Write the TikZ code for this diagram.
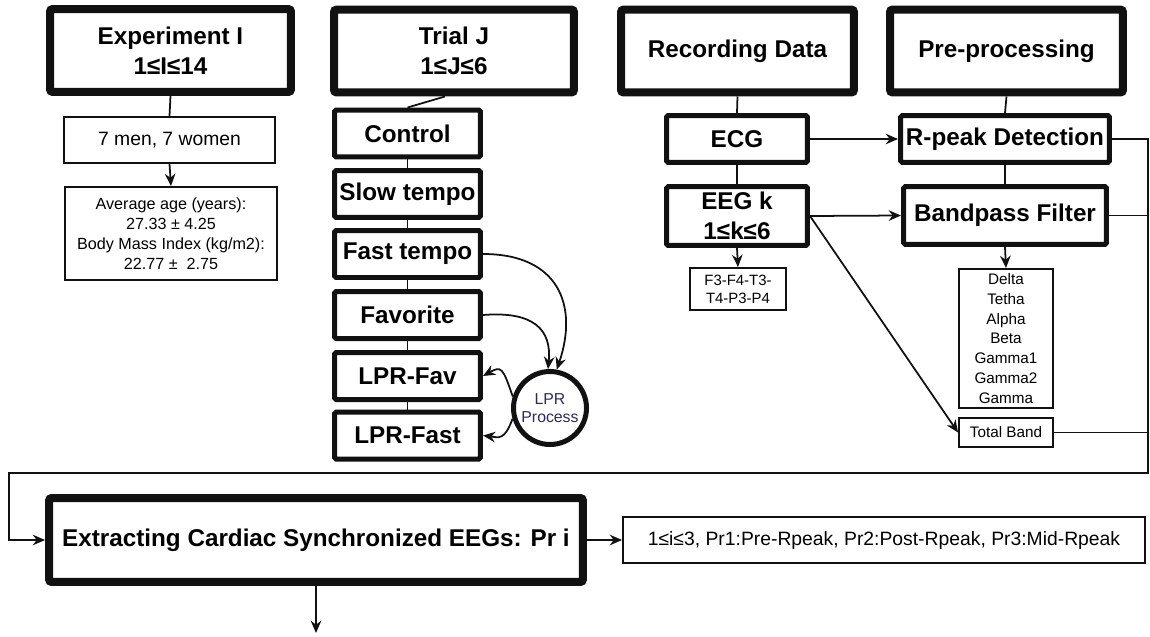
\documentclass[tikz,border=0pt]{standalone}
\usepackage{fontspec}
\setmainfont{Liberation Sans}
\usepackage{tikz}
\usetikzlibrary{arrows.meta,calc}
\usepackage{xcolor}
\definecolor{ink}{HTML}{111111}
\definecolor{lprtext}{HTML}{2B2B5E}

\begin{document}
\begin{tikzpicture}[x=0.02cm,y=-0.02cm,
    >={Stealth[length=7pt,width=6pt]},
    link/.style={draw=ink,line width=1pt},
    headbox/.style={draw=ink,line width=0.16cm,rounded corners=1.5pt,align=center,inner sep=0pt,
      font=\fontsize{13.8}{17}\selectfont\bfseries},
    stepbox/.style={draw=ink,line width=0.1cm,rounded corners=1pt,align=center,inner sep=0pt,
      minimum width=2.92cm,minimum height=0.94cm,font=\fontsize{13.8}{17}\selectfont\bfseries},
    infobox/.style={draw=ink,line width=1.1pt,align=center,inner sep=0pt,
      font=\fontsize{11}{13}\selectfont},
    notebox/.style={draw=ink,line width=1.1pt,align=center,inner sep=0pt,
      font=\fontsize{8.7}{11.3}\selectfont}]
    \useasboundingbox (0,0) rectangle (1150,636);

    % Headers
    \node[headbox,minimum width=4.82cm,minimum height=1.66cm] (exp) at (170.5,50.5) {Experiment I\\1≤I≤14};
    \node[headbox,minimum width=4.80cm,minimum height=1.66cm] (trial) at (454,51) {Trial J\\1≤J≤6};
    \node[headbox,minimum width=4.66cm,minimum height=1.66cm] (rec) at (737.5,51) {Recording Data};
    \node[headbox,minimum width=4.66cm,minimum height=1.66cm] (pre) at (1006.5,51) {Pre-processing};

    % Subjects
    \node[infobox,minimum width=4.22cm,minimum height=0.92cm] (men) at (169.5,140) {7 men, 7 women};
    \node[notebox,font=\fontsize{9.2}{11.3}\selectfont,minimum width=4.24cm,minimum height=1.86cm] (stats) at (171,233.5)
      {Average age (years):\\27.33 ± 4.25\\Body Mass Index (kg/m2):\\22.77 ±\ \ 2.75};
    \draw[link] (exp.south) -- (men.north);
    \draw[link,->] (men.south) -- (stats.north);

    % Trials
    \node[stepbox] (control) at (407.5,133.5) {Control};
    \node[stepbox] (slow) at (407.5,194) {Slow tempo};
    \node[stepbox] (fast) at (407.5,254) {Fast tempo};
    \node[stepbox] (favorite) at (407.5,315) {Favorite};
    \node[stepbox] (lprfav) at (407.5,376) {LPR-Fav};
    \node[stepbox] (lprfast) at (407.5,435.5) {LPR-Fast};
    \node[draw=ink,circle,line width=0.1cm,minimum size=1.46cm,inner sep=0pt,align=center,
      text=lprtext,font=\fontsize{9}{10.4}\selectfont] (lpr) at (550,408) {LPR\\Process};
    \draw[link] ($(trial.south)+(-9,0)$) -- (control.north);
    \foreach \a/\b in {control/slow,slow/fast,fast/favorite,favorite/lprfav,lprfav/lprfast}
      \draw[link] (\a.south) -- (\b.north);
    \draw[link,->] (fast.east) .. controls +(75,0) and +(22,-65) .. (lpr.80);
    \draw[link,->] (favorite.east) .. controls +(50,-4) and +(4,-40) .. (lpr.93);
    \draw[link,->] (lpr.163) .. controls +(-10,-30) and +(18,-10) .. (lprfav.east);
    \draw[link,->] (lpr.196) .. controls +(-8,22) and +(16,2) .. (lprfast.east);

    % Recording
    \node[stepbox,minimum width=2.82cm] (ecg) at (737,139) {ECG};
    \node[stepbox,minimum width=2.82cm,minimum height=1.18cm] (eeg) at (737,216) {EEG k\\1≤k≤6};
    \node[notebox,font=\fontsize{8.5}{10.2}\selectfont,minimum width=1.92cm,minimum height=0.84cm] (chan) at (738,289) {F3-F4-T3-\\T4-P3-P4};
    \draw[link] (rec.south) -- (ecg.north);
    \draw[link] (ecg.south) -- (eeg.north);
    \draw[link,->] (eeg.south) -- (chan.north);

    % Pre-processing
    \node[stepbox,minimum width=4.18cm] (rpeak) at (1005,139) {R-peak Detection};
    \node[stepbox,minimum width=4.06cm,minimum height=1.16cm] (bandpass) at (1005,215.5) {Bandpass Filter};
    \node[notebox,minimum width=1.88cm,minimum height=2.78cm] (bands) at (1006,338.5)
      {Delta\\Tetha\\Alpha\\Beta\\Gamma1\\Gamma2\\Gamma};
    \node[notebox,minimum width=1.88cm,minimum height=0.58cm] (total) at (1006,432.5) {Total Band};
    \draw[link] (pre.south) -- (rpeak.north);
    \draw[link] (rpeak.south) -- (bandpass.north);
    \draw[link,->] (bandpass.south) -- (bands.north);
    \draw[link,->] (ecg.east) -- (rpeak.west);
    \draw[link,->] (eeg.east) -- (bandpass.west);
    \draw[link,->] (eeg.east) -- (total.west);

    % Extraction
    \node[headbox,minimum width=10.68cm,minimum height=1.68cm] (extract) at (316,540)
      {Extracting Cardiac Synchronized EEGs: Pr i};
    \node[infobox,minimum width=10.44cm,minimum height=0.92cm] (prdef) at (884,540)
      {1≤i≤3, Pr1:Pre-Rpeak, Pr2:Post-Rpeak, Pr3:Mid-Rpeak};
    \coordinate (bus) at (1148,473);
    \coordinate (turn) at (9,473);
    \coordinate (next) at (316,633);
    \draw[link,->] (rpeak.east) -| (bus) -- (turn) |- (extract.west);
    \draw[link] (bandpass.east) -- (bandpass.east -| bus);
    \draw[link] (total.east) -- (total.east -| bus);
    \draw[link,->] (extract.east) -- (prdef.west);
    \draw[link,->] (extract.south) -- (next);
\end{tikzpicture}
\end{document}
